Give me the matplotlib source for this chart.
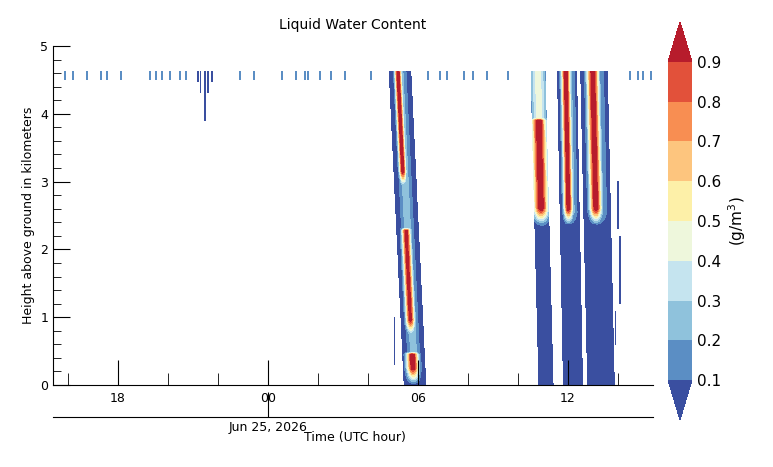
import numpy as np
import matplotlib
matplotlib.use("Agg")
import matplotlib.pyplot as plt
from matplotlib.colors import ListedColormap

# plume definitions (hours since Jun 24 00 UTC, km)
plume_hour_bottom = [29.88, 35.12, 36.20, 37.32]
plume_hour_top = [29.28, 34.80, 35.96, 37.04]
plume_halfwidth = [0.45, 0.30, 0.40, 0.55]
plume_top_km = [4.62, 4.62, 4.62, 4.62]
plume_base_value = [0.05, 0.05, 0.05, 0.05]

# high-LWC cores: plume index, z0, z1, offset hours, width hours, peak
core_plume = [0, 0, 0, 0, 1, 1, 2, 2, 3, 3]
core_z0 = [2.9, 0.7, 0.0, 0.0, 2.35, 2.3, 2.35, 2.3, 2.35, 2.3]
core_z1 = [4.62, 2.3, 0.45, 4.62, 3.9, 4.62, 4.62, 4.62, 4.62, 4.62]
core_offset = [-0.08, -0.06, -0.05, 0.0, -0.02, 0.0, -0.05, 0.0, -0.05, 0.0]
core_width = [0.12, 0.16, 0.22, 0.25, 0.28, 0.30, 0.16, 0.28, 0.22, 0.36]
core_peak = [1.0, 0.95, 1.0, 0.25, 1.0, 0.45, 1.0, 0.3, 1.0, 0.3]

# thin streaks near the top of the domain
streak_hours = [15.88, 16.2, 16.76, 17.32, 17.56, 18.12, 19.28, 19.52, 19.76,
                20.08, 20.48, 20.72, 22.88, 23.44, 24.56, 25.12, 25.48, 25.6,
                26.08, 26.52, 27.08, 28.12, 30.4, 30.88, 31.16, 31.84, 32.2,
                32.76, 33.6, 38.48, 38.8, 39.0, 39.32]
# other thin streaks: hour, z0, z1
extra_hours = [21.2, 21.3, 21.48, 21.6, 21.75, 29.06, 38.08, 38.0, 37.9]
extra_z0 = [4.45, 4.3, 3.9, 4.3, 4.45, 0.3, 1.2, 2.3, 0.6]
extra_z1 = [4.62, 4.62, 4.62, 4.62, 4.62, 1.0, 2.2, 3.0, 1.1]

levels = [0.1, 0.2, 0.3, 0.4, 0.5, 0.6, 0.7, 0.8, 0.9]
level_colors = ["#5b8ec4", "#8fc2dc", "#c5e4ef", "#eef7dc", "#fdf0a8",
                "#fdc57e", "#f88e52", "#e2513a"]
under_color = "#3a4fa0"
over_color = "#b71c2c"

t = np.arange(15.4, 39.4, 0.02)
z = np.arange(0.0, 4.66, 0.03)
T, Z = np.meshgrid(t, z)
lwc = np.full(T.shape, np.nan)

for i in range(len(plume_hour_bottom)):
    c = plume_hour_bottom[i] + (plume_hour_top[i] - plume_hour_bottom[i]) * Z / 4.62
    inside = (np.abs(T - c) < plume_halfwidth[i]) & (Z <= plume_top_km[i])
    lwc[inside] = plume_base_value[i]

for k in range(len(core_plume)):
    i = core_plume[k]
    c = plume_hour_bottom[i] + (plume_hour_top[i] - plume_hour_bottom[i]) * Z / 4.62 + core_offset[k]
    zmask = (Z >= core_z0[k]) & (Z <= core_z1[k])
    fade = np.clip((Z - core_z0[k]) / 0.25, 0, 1)
    add = core_peak[k] * np.exp(-((T - c) / core_width[k]) ** 2) * fade
    sel = zmask & ~np.isnan(lwc)
    lwc[sel] = np.maximum(lwc[sel], add[sel])

for h in streak_hours:
    sel = (np.abs(T - h) < 0.025) & (Z >= 4.5) & (Z <= 4.62)
    lwc[sel] = 0.12
for h, a, b in zip(extra_hours, extra_z0, extra_z1):
    sel = (np.abs(T - h) < 0.03) & (Z >= a) & (Z <= b)
    lwc[sel] = 0.05

cmap = ListedColormap(level_colors)
cmap.set_under(under_color)
cmap.set_over(over_color)

fig = plt.figure(figsize=(7.73, 4.67), dpi=100)
W, H = 773, 467
ax = fig.add_axes([53 / W, (H - 385) / H, 600 / W, 339 / H])
cs = ax.contourf(T, Z, lwc, levels=levels, cmap=cmap, extend="both")
ax.set_xlim(15.4, 39.4)
ax.set_ylim(0, 5)
ax.set_xticks([18, 24, 30, 36])
ax.set_xticklabels(["18", "00", "06", "12"])
ax.set_xticks([16, 20, 22, 26, 28, 32, 34, 38], minor=True)
ax.set_yticks([0, 1, 2, 3, 4, 5])
ax.set_yticks(np.arange(0, 5.01, 0.2), minor=True)
ax.tick_params(axis="x", which="major", direction="in", length=18, pad=5, labelsize=9)
ax.tick_params(axis="x", which="minor", direction="in", length=9)
ax.tick_params(axis="y", which="major", direction="in", length=12, labelsize=9)
ax.tick_params(axis="y", which="minor", direction="in", length=6)
for s in ["top", "right"]:
    ax.spines[s].set_visible(False)
ax.set_ylabel("Height above ground in kilometers", fontsize=9)
ax.set_title("Liquid Water Content", fontsize=10, pad=12)

ax2 = fig.add_axes([53 / W, (H - 417) / H, 600 / W, 0.001])
ax2.set_xlim(15.4, 39.4)
ax2.set_yticks([])
for s in ["top", "right", "left"]:
    ax2.spines[s].set_visible(False)
ax2.set_xticks([24])
ax2.set_xticklabels(["Jun 25, 2026"])
ax2.tick_params(axis="x", direction="in", length=18, pad=3, labelsize=9)
ax2.patch.set_visible(False)
fig.text(355 / W, 1 - 438 / H, "Time (UTC hour)", ha="center", va="center", fontsize=9)

cax = fig.add_axes([668 / W, (H - 420) / H, 24 / W, 398 / H])
cb = fig.colorbar(cs, cax=cax, extendfrac=40 / 320)
cb.set_ticks(levels)
cb.ax.tick_params(labelsize=11, length=0)
cb.outline.set_visible(False)
cb.set_label("(g/m$^3$)", fontsize=11)

fig.savefig("out.png", dpi=100)
